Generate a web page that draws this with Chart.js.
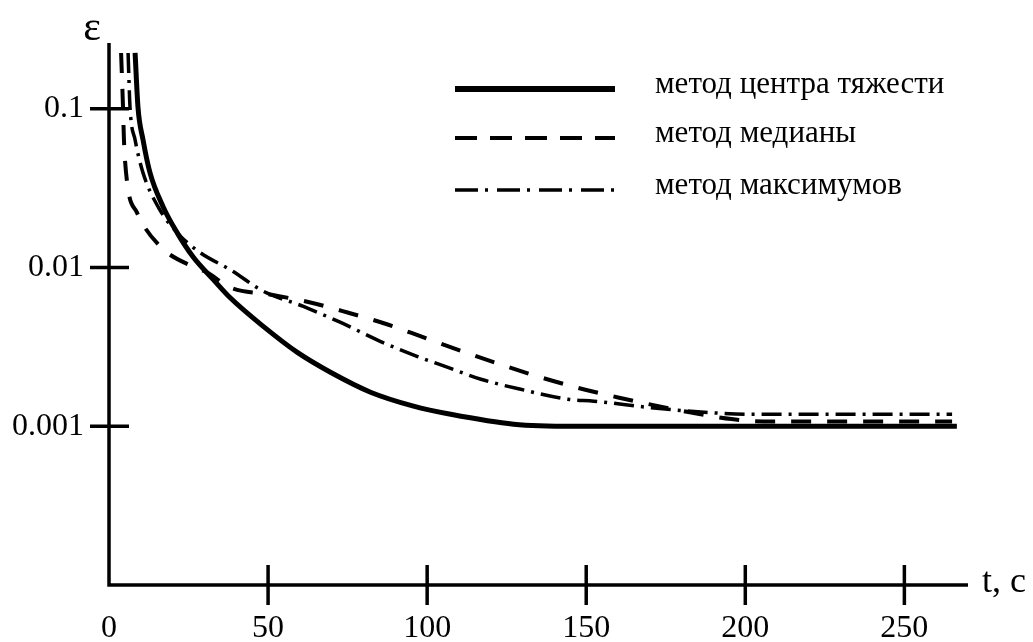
<!DOCTYPE html>
<html>
<head>
<meta charset="utf-8">
<script src="https://cdn.jsdelivr.net/npm/chart.js@4"></script>
<style>
  html, body { margin: 0; padding: 0; background: #fff; }
</style>
</head>
<body>
<canvas id="chart" width="1033" height="642"></canvas>
<script>
// values: t in seconds, epsilon on a log axis
const tCentroid = [8.2, 9.1, 10.7, 12.9, 17, 21.4, 26.4, 32.8, 38.1, 48.5, 59.2, 69.6, 82.2, 95.7, 107.4, 127.2, 146, 200, 266.5];
const epsCentroid = [0.225, 0.103, 0.0638, 0.0395, 0.0242, 0.0166, 0.0117, 0.0084, 0.00645, 0.00426, 0.00292, 0.00219, 0.00164, 0.00134, 0.00119, 0.00103, 0.001, 0.001, 0.001];

const tMedian = [3.8, 4.4, 4.7, 5.7, 8.8, 16.1, 26.5, 30.9, 38.1, 50.7, 63.3, 75, 87.6, 98.9, 111.2, 123.1, 134.8, 146.8, 160, 183, 195.6, 208.2, 265];
const epsMedian = [0.225, 0.103, 0.0638, 0.0343, 0.0222, 0.0136, 0.0101, 0.0093, 0.00748, 0.00676, 0.00603, 0.00521, 0.00438, 0.00363, 0.00296, 0.00245, 0.00206, 0.00176, 0.00152, 0.00122, 0.00111, 0.00107, 0.00107];

const tMaxima = [6, 6.6, 8.2, 10.7, 15.4, 21.4, 28.7, 38.1, 48.5, 61.1, 72.8, 85.4, 97, 106.5, 116.9, 129.4, 144.3, 152.4, 170.4, 191.5, 201.8, 265];
const epsMaxima = [0.225, 0.103, 0.0638, 0.0395, 0.0242, 0.0166, 0.0124, 0.0097, 0.0071, 0.00569, 0.00451, 0.00342, 0.00275, 0.00235, 0.00198, 0.00171, 0.00148, 0.00144, 0.00131, 0.00121, 0.00119, 0.00119];

const seriesNames = ['метод центра тяжести', 'метод медианы', 'метод максимумов'];
const xTicks = [0, 50, 100, 150, 200, 250];
const yTicks = [0.1, 0.01, 0.001];
const yTickLabels = ['0.1', '0.01', '0.001'];

const FONT = '"Liberation Serif", "Times New Roman", serif';
const styles = [
  { width: 5, dash: [] },
  { width: 4, dash: [20, 16] },
  { width: 3.5, dash: [20, 7, 3, 7] }
];

function toPoints(ts, vs) {
  return ts.map((t, i) => ({ x: t, y: vs[i] }));
}

// axes, ticks, labels and legend drawn by hand on top of the library scales
const axesPlugin = {
  id: 'axes',
  afterDatasetsDraw(chart) {
    const { ctx, scales: { x, y }, chartArea: a } = chart;
    ctx.save();
    ctx.strokeStyle = '#000';
    ctx.fillStyle = '#000';
    ctx.lineWidth = 3.5;
    ctx.setLineDash([]);

    ctx.beginPath();
    ctx.moveTo(a.left, a.top);
    ctx.lineTo(a.left, a.bottom);
    ctx.lineTo(a.right, a.bottom);
    ctx.stroke();

    ctx.font = '32px ' + FONT;
    ctx.textAlign = 'center';
    ctx.textBaseline = 'alphabetic';
    xTicks.forEach(v => {
      const px = x.getPixelForValue(v);
      if (v > 0) {
        ctx.beginPath();
        ctx.moveTo(px, a.bottom - 20);
        ctx.lineTo(px, a.bottom + 20);
        ctx.stroke();
      }
      ctx.fillText(String(v), px, a.bottom + 52);
    });

    ctx.textAlign = 'right';
    ctx.textBaseline = 'middle';
    yTicks.forEach((v, i) => {
      const py = y.getPixelForValue(v);
      ctx.beginPath();
      ctx.moveTo(a.left - 19, py);
      ctx.lineTo(a.left + 20, py);
      ctx.stroke();
      ctx.fillText(yTickLabels[i], a.left - 25, py);
    });

    // axis titles
    ctx.font = '36px ' + FONT;
    ctx.textAlign = 'left';
    ctx.fillText('t, c', a.right + 14, a.bottom - 2);
    ctx.font = '42px ' + FONT;
    ctx.textAlign = 'center';
    ctx.textBaseline = 'alphabetic';
    ctx.fillText('ε', a.left - 17, 40);

    // legend
    ctx.font = '31px ' + FONT;
    ctx.textAlign = 'left';
    ctx.textBaseline = 'middle';
    const rows = [89, 138, 190];
    seriesNames.forEach((name, i) => {
      ctx.lineWidth = styles[i].width + (i === 0 ? 1 : 0);
      ctx.setLineDash(i === 1 ? [22, 13] : (i === 2 ? [23, 7, 3, 9] : []));
      ctx.beginPath();
      ctx.moveTo(455, rows[i]);
      ctx.lineTo(615, rows[i]);
      ctx.stroke();
      ctx.setLineDash([]);
      ctx.fillText(name, 655, rows[i] - 4);
    });
    ctx.restore();
  }
};

new Chart(document.getElementById('chart'), {
  type: 'line',
  data: {
    datasets: [
      { label: seriesNames[0], data: toPoints(tCentroid, epsCentroid) },
      { label: seriesNames[1], data: toPoints(tMedian, epsMedian) },
      { label: seriesNames[2], data: toPoints(tMaxima, epsMaxima) }
    ].map((d, i) => Object.assign(d, {
      borderColor: '#000',
      borderWidth: styles[i].width,
      borderDash: styles[i].dash,
      pointRadius: 0,
      fill: false,
      cubicInterpolationMode: 'monotone'
    }))
  },
  options: {
    responsive: false,
    animation: false,
    layout: { padding: { left: 109, top: 43, right: 65, bottom: 57 } },
    plugins: { legend: { display: false }, tooltip: { enabled: false } },
    scales: {
      x: { type: 'linear', min: 0, max: 270, display: false },
      y: { type: 'logarithmic', min: 0.0001, max: 0.26, display: false }
    }
  },
  plugins: [axesPlugin]
});
</script>
</body>
</html>
